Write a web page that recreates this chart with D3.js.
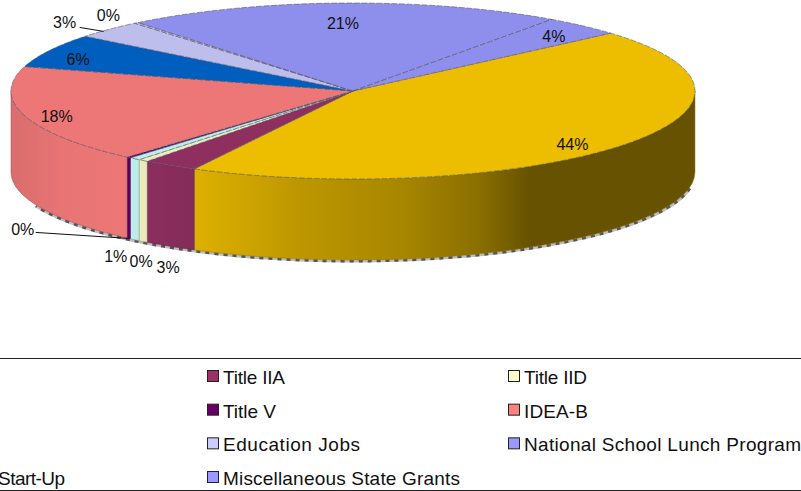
<!DOCTYPE html>
<html>
<head>
<meta charset="utf-8">
<script src="https://cdn.jsdelivr.net/npm/d3@7"></script>
<style>
  html, body { margin: 0; padding: 0; background: #fff; overflow: hidden; }
  svg { display: block; }
  text { font-family: "Liberation Sans", Arial, sans-serif; fill: #111; }
</style>
</head>
<body>
<svg id="chart" width="801" height="491"></svg>
<script>
// slices, clockwise from the yellow one
const sliceValues = [44.1, 2.6, 0.47, 0.53, 0.2, 18, 6.2, 3.3, 0.2, 20.7, 3.7];
const sliceLabels = ["44%", "3%", "0%", "1%", "0%", "18%", "6%", "3%", "0%", "21%", "4%"];
const sliceColors = ["#FFCC00", "#993366", "#FFFFCC", "#CCFFFF", "#660066", "#FF8080", "#0066CC", "#CCCCFF", "#CCCCFF", "#9999FF", "#9999FF"];

// legend reads row by row, first column is cut off by the frame
const legendNames = [null, "Title IIA", "Title IID", null, "Title V", "IDEA-B", null, "Education Jobs", "National School Lunch Program", "Start-Up", "Miscellaneous State Grants"];
const legendColors = ["#FFCC00", "#993366", "#FFFFCC", "#CCFFFF", "#660066", "#FF8080", "#0066CC", "#CCCCFF", "#9999FF", "#CCCCFF", "#9999FF"];
const legendTextWidths = [0, 62, 63, 0, 53, 64, 0, 137, 277, 67, 237];

const width = 801;
const height = 491;
const pieBox = { cx: 353, cy: 91, rx: 342, ry: 88, depth: 81 };
const startDeg = 48.9;

// label offset from the rim point at the slice's mid angle
const labelOffsets = [[-49, -1], [-2, 102], [-2, 101], [-19, 98], [-106, 72], [32, 1], [29, 9], [-44, -7], [-28, -7], [0, 20], [-29, 11]];

// [x, brightness] along the side wall
const sideShade = [[11, 0.85], [60, 0.91], [130, 0.93], [193, 0.87], [300, 0.74], [400, 0.66], [480, 0.54], [530, 0.4], [695, 0.4]];
const topShade = 0.93;

const svg = d3.select("#chart");
const defs = svg.append("defs");

const xScale = d3.scaleLinear().domain([-1, 1]).range([pieBox.cx - pieBox.rx, pieBox.cx + pieBox.rx]);
const yScale = d3.scaleLinear().domain([-1, 1]).range([pieBox.cy - pieBox.ry, pieBox.cy + pieBox.ry]);

const rad = (deg) => (deg * Math.PI) / 180;
const rim = (a, drop = 0) => [xScale(Math.sin(a)), yScale(-Math.cos(a)) + drop];
const shaded = (color, k) => {
  const c = d3.rgb(color);
  return d3.rgb(c.r * k, c.g * k, c.b * k).formatRgb();
};
const arcTo = (a0, a1, drop, sweep) => {
  const [x, y] = rim(a1, drop);
  const large = Math.abs(a1 - a0) > Math.PI ? 1 : 0;
  return `A${pieBox.rx},${pieBox.ry} 0 ${large} ${sweep} ${x},${y}`;
};

const arcs = d3.pie().sort(null).startAngle(rad(startDeg)).endAngle(rad(startDeg + 360))(sliceValues);

// side walls, only the front half of the disc shows
const sides = svg.append("g").attr("class", "sides");

// rough bottom edge
const edgeStart = rim(rad(100), pieBox.depth);
const edgePath = `M${edgeStart}${arcTo(rad(100), rad(248), pieBox.depth, 1)}`;
sides.append("path").attr("d", edgePath).attr("transform", "translate(0,1)").attr("fill", "none").attr("stroke", "#bdbdbd").attr("stroke-width", 3);
sides
  .append("path")
  .attr("d", edgePath)
  .attr("transform", "translate(0,1)")
  .attr("fill", "none")
  .attr("stroke", "#555")
  .attr("stroke-width", 3)
  .attr("stroke-dasharray", "4 5");

arcs.forEach((d, i) => {
  const a0 = Math.max(d.startAngle, rad(90));
  const a1 = Math.min(d.endAngle, rad(270));
  if (a1 <= a0) return;

  const grad = defs
    .append("linearGradient")
    .attr("id", `side-${i}`)
    .attr("gradientUnits", "userSpaceOnUse")
    .attr("x1", sideShade[0][0])
    .attr("x2", sideShade[sideShade.length - 1][0])
    .attr("y1", 0)
    .attr("y2", 0);
  const span = sideShade[sideShade.length - 1][0] - sideShade[0][0];
  sideShade.forEach(([x, k]) => {
    grad.append("stop").attr("offset", (x - sideShade[0][0]) / span).attr("stop-color", shaded(sliceColors[i], k));
  });

  const p0 = rim(a0);
  const p1 = rim(a1, pieBox.depth);
  sides
    .append("path")
    .attr("d", `M${p0}${arcTo(a0, a1, 0, 1)}L${p1}${arcTo(a1, a0, pieBox.depth, 0)}Z`)
    .attr("fill", `url(#side-${i})`)
    .attr("stroke", shaded(sliceColors[i], 0.6))
    .attr("stroke-width", 0.5);
});

// top faces
svg
  .append("g")
  .attr("class", "tops")
  .selectAll("path")
  .data(arcs)
  .join("path")
  .attr("d", (d) => `M${pieBox.cx},${pieBox.cy}L${rim(d.startAngle)}${arcTo(d.startAngle, d.endAngle, 0, 1)}Z`)
  .attr("fill", (d, i) => shaded(sliceColors[i], topShade))
  .attr("stroke", "#55556a")
  .attr("stroke-width", 0.6)
  .attr("stroke-dasharray", "6 1.5")
  .attr("stroke-linejoin", "round");

// leader lines
const leaders = [
  { slice: 4, from: [13, 3], drop: pieBox.depth, to: [0, 0] },
  { slice: 7, from: [15, 5], drop: 0, to: [-5, 2] },
];
const midAngle = (d) => (d.startAngle + d.endAngle) / 2;
const labelAt = (d, i) => {
  const [x, y] = rim(midAngle(d));
  return [x + labelOffsets[i][0], y + labelOffsets[i][1]];
};
leaders.forEach((l) => {
  const d = arcs[l.slice];
  const [lx, ly] = labelAt(d, l.slice);
  const [tx, ty] = rim(midAngle(d), l.drop);
  svg
    .append("line")
    .attr("x1", lx + l.from[0])
    .attr("y1", ly + l.from[1])
    .attr("x2", tx + l.to[0])
    .attr("y2", ty + l.to[1])
    .attr("stroke", "#111")
    .attr("stroke-width", 1);
});

svg
  .append("g")
  .attr("class", "labels")
  .selectAll("text")
  .data(arcs)
  .join("text")
  .attr("x", (d, i) => labelAt(d, i)[0])
  .attr("y", (d, i) => labelAt(d, i)[1])
  .attr("text-anchor", "middle")
  .attr("dominant-baseline", "central")
  .style("font-size", "16px")
  .text((d, i) => sliceLabels[i]);

// legend frame, runs past the page on the left and right
const legendTop = 358;
const legendBottom = 490;
[legendTop, legendBottom].forEach((y) => {
  svg.append("line").attr("x1", 0).attr("x2", width).attr("y1", y + 0.5).attr("y2", y + 0.5).attr("stroke", "#222").attr("stroke-width", 1.2);
});

const colX = d3.scaleLinear().domain([0, 1]).range([-94, 207]);
const rowY = d3.scaleLinear().domain([0, 3]).range([384, 485]);
const legend = svg.append("g").attr("class", "legend");
legendNames.forEach((name, i) => {
  if (!name) return;
  const col = i % 3;
  const row = Math.floor(i / 3);
  const x = colX(col);
  const y = rowY(row);
  legend
    .append("rect")
    .attr("x", x + 0.5)
    .attr("y", y - 13.5)
    .attr("width", 11)
    .attr("height", 11)
    .attr("fill", legendColors[i])
    .attr("stroke", "#222")
    .attr("stroke-width", 1);
  // first column entry is only visible from "Start-Up" on
  legend
    .append("text")
    .attr("x", col === 0 ? -2 : x + 16)
    .attr("y", y)
    .attr("textLength", legendTextWidths[i])
    .attr("lengthAdjust", "spacing")
    .style("font-size", "19px")
    .text(name);
});
</script>
</body>
</html>
